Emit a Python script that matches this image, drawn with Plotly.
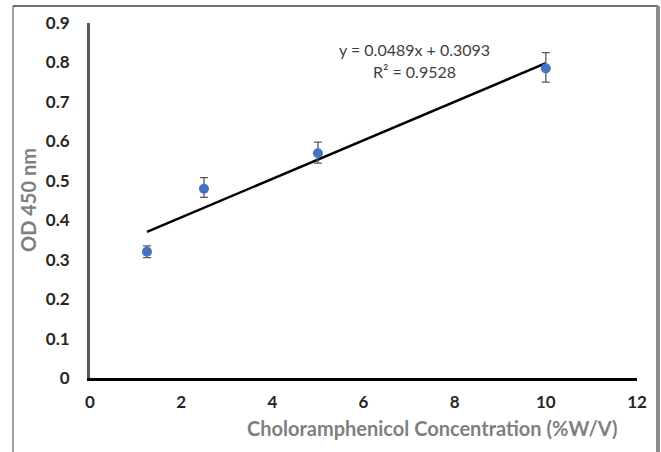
import plotly.graph_objects as go

conc = [1.25, 2.5, 5, 10]
od = [0.32, 0.48, 0.57, 0.785]
err_plus = [0.015, 0.028, 0.028, 0.04]
err_minus = [0.015, 0.022, 0.025, 0.035]
slope = 0.0489
intercept = 0.3093
eq_text = "y = 0.0489x + 0.3093"
r2_text = "R² = 0.9528"
x_ticks = [0, 2, 4, 6, 8, 10, 12]
y_ticks = [0, 0.1, 0.2, 0.3, 0.4, 0.5, 0.6, 0.7, 0.8, 0.9]

W, H = 661, 452
L, R, T, B = 90, 24, 23, 74
pw, ph = W - L - R, H - T - B

def px(x):
    return (x - L) / pw

def py(y):
    return (H - B - y) / ph

fit_x = [min(conc), max(conc)]
fit_y = [slope * v + intercept for v in fit_x]

fig = go.Figure()
fig.add_trace(go.Scatter(x=fit_x, y=fit_y, mode="lines",
                         line=dict(color="#000000", width=2.5), showlegend=False))
fig.add_trace(go.Scatter(
    x=conc, y=od, mode="markers",
    marker=dict(color="#4472C4", size=10),
    error_y=dict(type="data", symmetric=False, array=err_plus, arrayminus=err_minus,
                 color="#595959", thickness=1.3, width=4),
    showlegend=False))

font_family = "Lato, Open Sans, sans-serif"

fig.update_layout(
    width=W, height=H,
    margin=dict(l=L, r=R, t=T, b=B),
    paper_bgcolor="white", plot_bgcolor="white",
    font=dict(family=font_family),
    xaxis=dict(range=[0, 12], tickvals=x_ticks, showgrid=False, zeroline=False,
               showline=True, linecolor="#000000", linewidth=3,
               ticks="", ticklabelstandoff=7,
               tickfont=dict(size=17, color="#262626", family=font_family, weight="bold")),
    yaxis=dict(range=[0, 0.9], tickvals=y_ticks, showgrid=False, zeroline=False,
               showline=True, linecolor="#595959", linewidth=3,
               ticks="", ticklabelstandoff=14,
               tickfont=dict(size=17, color="#262626", family=font_family, weight="bold")),
    annotations=[
        dict(text=eq_text, x=px(414), y=py(49), xref="paper", yref="paper",
             xanchor="center", yanchor="middle",
             showarrow=False, font=dict(size=16, color="#404040", family=font_family)),
        dict(text=r2_text, x=px(414), y=py(71), xref="paper", yref="paper",
             xanchor="center", yanchor="middle",
             showarrow=False, font=dict(size=16, color="#404040", family=font_family)),
        dict(text="Choloramphenicol Concentration (%W/V)", x=px(432), y=py(428),
             xref="paper", yref="paper", xanchor="center", yanchor="middle", showarrow=False,
             font=dict(size=20, color="#7f7f7f", family=font_family, weight="bold")),
        dict(text="OD 450 nm", x=px(28), y=py(200), xref="paper", yref="paper",
             xanchor="center", yanchor="middle",
             textangle=-90, showarrow=False,
             font=dict(size=20, color="#7f7f7f", family=font_family, weight="bold")),
    ],
    shapes=[
        dict(type="line", xref="paper", yref="paper", x0=px(13), x1=px(13), y0=py(6), y1=py(452),
             line=dict(color="#404040", width=1)),
        dict(type="line", xref="paper", yref="paper", x0=px(13), x1=px(658), y0=py(6), y1=py(6),
             line=dict(color="#404040", width=1.5)),
        dict(type="line", xref="paper", yref="paper", x0=px(658), x1=px(658), y0=py(6), y1=py(452),
             line=dict(color="#8c8c8c", width=4)),
    ],
)

fig.write_html("out.html")
